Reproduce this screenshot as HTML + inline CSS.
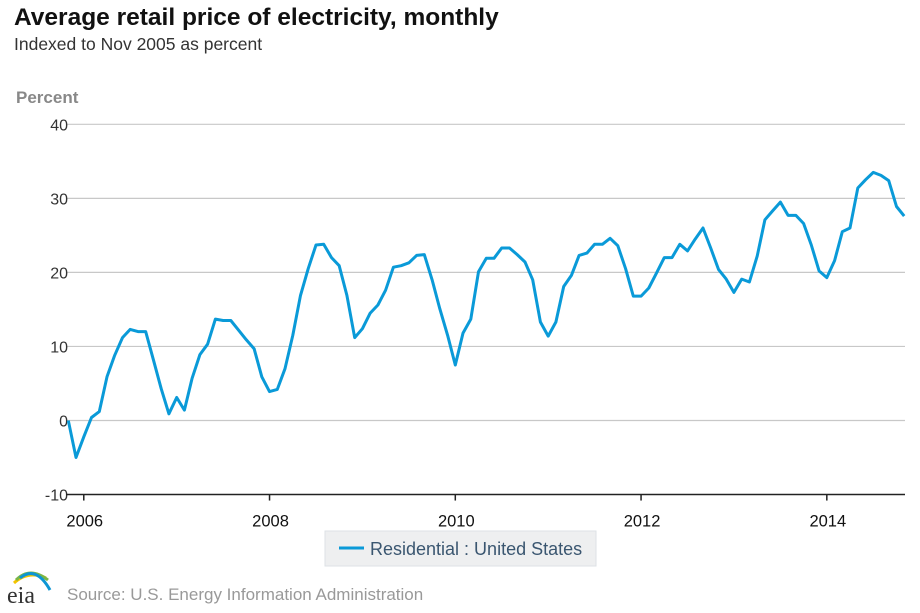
<!DOCTYPE html>
<html><head><meta charset="utf-8">
<style>
body{margin:0;background:#fff;font-family:"Liberation Sans",Arial,sans-serif;}
#wrap{position:relative;width:920px;height:613px;overflow:hidden;}
</style></head>
<body>
<div id="wrap">
<svg id="chart" width="920" height="613" xmlns="http://www.w3.org/2000/svg">
<text x="14" y="25" font-size="24.5" font-weight="bold" fill="#111">Average retail price of electricity, monthly</text>
<text x="14" y="50" font-size="17.5" fill="#333">Indexed to Nov 2005 as percent</text>
<text x="16" y="103" font-size="17" font-weight="bold" fill="#888">Percent</text>
<g id="grid"></g>
<g id="yticks"></g>
<g id="xticks"></g>
<path id="line" fill="none" stroke="#0a9ad8" stroke-width="3" stroke-linejoin="round"></path>
<g>
<rect x="325" y="531" width="271" height="35" fill="#eeeff0" stroke="#dde2e6"></rect>
<line x1="339" y1="548" x2="364" y2="548" stroke="#0a9ad8" stroke-width="3"></line>
<text x="370" y="555" font-size="18" fill="#3a5670">Residential : United States</text>
</g>
<g>
<path d="M14 583 Q28 570 46 578" stroke="#f4c400" stroke-width="3" fill="none"/>
<path d="M16 580 Q30 566 48 580" stroke="#7ab648" stroke-width="3" fill="none"/>
<path d="M20 578 Q36 565 50 590" stroke="#0d96d4" stroke-width="3" fill="none"/>
<text x="7" y="603" font-size="24" font-family="Liberation Serif,serif" fill="#333">eia</text>
</g>
<text x="67" y="600" font-size="17" fill="#999">Source: U.S. Energy Information Administration</text>
</svg>
</div>
<script>
const yTicks=[40,30,20,10,0,-10];
const xTickLabels=["2006","2008","2010","2012","2014"];
const startYear=2005, startMonth=10; // Nov 2005 (0-based month)
const values=[0,-5.0,-2.2,0.4,1.2,5.9,8.8,11.2,12.3,12.0,12.0,8.2,4.3,0.9,3.1,1.4,5.7,8.9,10.3,13.7,13.5,13.5,12.2,10.9,9.7,5.9,3.9,4.2,7.0,11.5,16.9,20.5,23.7,23.8,22.0,20.9,16.9,11.2,12.4,14.5,15.6,17.6,20.7,20.9,21.3,22.3,22.4,19.0,15.1,11.5,7.5,11.8,13.7,20.1,21.9,21.9,23.3,23.3,22.4,21.4,19.0,13.3,11.4,13.3,18.1,19.6,22.3,22.6,23.8,23.8,24.6,23.6,20.5,16.8,16.8,17.9,19.9,22.0,22.0,23.8,22.9,24.5,26.0,23.3,20.4,19.1,17.3,19.1,18.7,22.2,27.1,28.3,29.5,27.7,27.7,26.6,23.7,20.2,19.3,21.6,25.5,26.0,31.4,32.5,33.5,33.1,32.4,28.9,27.6];
const NS="http://www.w3.org/2000/svg";
const x0=68.3, xStep=7.74, yZero=420.5, yUnit=7.405, plotL=66, plotR=905;
function xScale(i){return x0+i*xStep;}
function yScale(v){return yZero-v*yUnit;}
const grid=document.getElementById('grid'), yt=document.getElementById('yticks'), xt=document.getElementById('xticks');
yTicks.forEach(v=>{
  const y=yScale(v);
  if(v>-10){
    const l=document.createElementNS(NS,'line');
    
    
    l.setAttribute('x1',plotL);l.setAttribute('x2',plotR);l.setAttribute('y1',y);l.setAttribute('y2',y);
    l.setAttribute('stroke','#c8c8c8');l.setAttribute('stroke-width','1.2');
    grid.appendChild(l);
  }
  const t=document.createElementNS(NS,'text');
  
  
  t.setAttribute('x',68);t.setAttribute('y',y+6);t.setAttribute('text-anchor','end');
  t.setAttribute('font-size','16');t.setAttribute('fill','#333');
  t.textContent=v;yt.appendChild(t);
});
const yAx=yScale(-10);
const ax=document.createElementNS(NS,'line');


ax.setAttribute('x1',plotL);ax.setAttribute('x2',plotR);ax.setAttribute('y1',yAx);ax.setAttribute('y2',yAx);
ax.setAttribute('stroke','#222');ax.setAttribute('stroke-width','1.5');xt.appendChild(ax);
xTickLabels.forEach(lbl=>{
  const i=(parseInt(lbl)-startYear)*12-startMonth;
  const x=xScale(i);
  const tk=document.createElementNS(NS,'line');
  
  
  tk.setAttribute('x1',x);tk.setAttribute('x2',x);tk.setAttribute('y1',yAx);tk.setAttribute('y2',yAx+6);
  tk.setAttribute('stroke','#222');tk.setAttribute('stroke-width','1.5');xt.appendChild(tk);
  const t=document.createElementNS(NS,'text');
  
  
  t.setAttribute('x',x+1);t.setAttribute('y',yAx+32);t.setAttribute('text-anchor','middle');
  t.setAttribute('font-size','16.5');t.setAttribute('fill','#111');
  t.textContent=lbl;xt.appendChild(t);
});
document.getElementById('line').setAttribute('d',values.map((v,i)=>(i?'L':'M')+xScale(i).toFixed(1)+' '+yScale(v).toFixed(1)).join(' '));
</script>
</body></html>
